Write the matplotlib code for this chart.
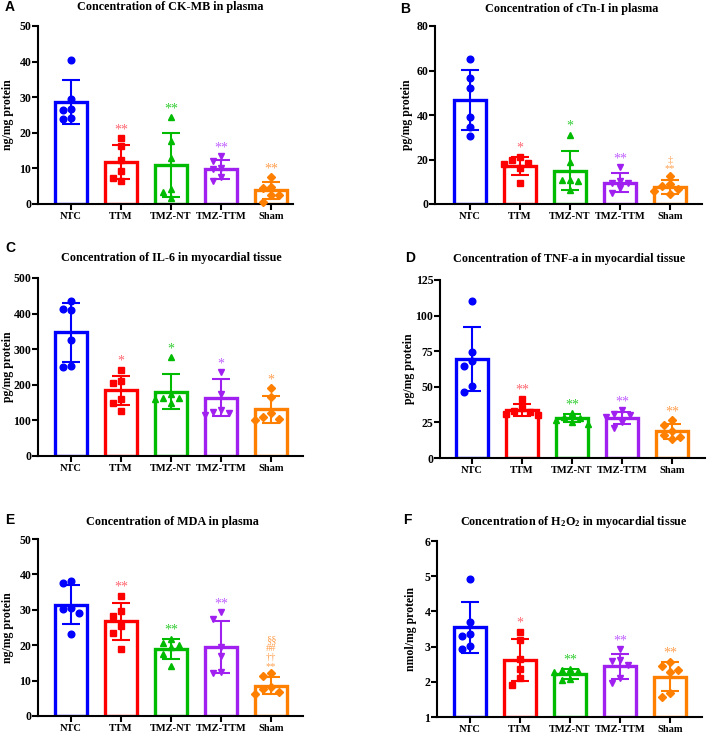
import matplotlib
matplotlib.use("Agg")
import matplotlib.pyplot as plt
import numpy as np

plt.rcParams["font.family"] = ["Liberation Serif", "DejaVu Serif"]
plt.rcParams["font.weight"] = "bold"
plt.rcParams["axes.labelweight"] = "bold"
plt.rcParams["mathtext.default"] = "regular"

groups = ["NTC", "TTM", "TMZ-NT", "TMZ-TTM", "Sham"]
bar_colors = ["#0000ff", "#ff0000", "#00bb00", "#a020f0", "#ff8000"]
sig_colors = ["#0000ff", "#ff6670", "#33cc33", "#c060ff", "#ffa050"]
markers = ["o", "s", "^", "v", "D"]

# A: CK-MB in plasma
ckmb_mean = [28.7, 11.8, 11.0, 9.8, 3.8]
ckmb_sd = [6.1, 4.8, 9.0, 2.7, 2.4]
ckmb_pts = [[40.5, 29.5, 26.8, 26.5, 24.1, 23.8],
            [18.5, 16.2, 12.5, 9.3, 7.2, 6.5],
            [24.4, 17.8, 12.9, 4.2, 3.4, 1.8],
            [13.5, 12.0, 10.2, 9.8, 7.5, 6.5],
            [7.5, 4.9, 4.4, 2.4, 2.4, 0.5]]
ckmb_sig = [[], ["**"], ["**"], ["**"], ["**"]]

# B: cTn-I in plasma
ctni_mean = [46.7, 17.2, 15.0, 9.6, 7.6]
ctni_sd = [13.6, 4.1, 8.8, 4.4, 3.2]
ctni_pts = [[65.0, 56.5, 52.0, 39.2, 34.6, 30.6],
            [21.0, 19.6, 18.6, 18.2, 16.0, 9.6],
            [31.2, 18.7, 10.8, 10.6, 10.5, 6.3],
            [16.6, 10.5, 9.4, 9.6, 7.0, 4.9],
            [12.8, 8.8, 8.0, 6.6, 6.0, 4.3]]
ctni_sig = [[], ["*"], ["*"], ["**"], ["**", "\u2021"]]

# C: IL-6 in myocardial tissue
il6_mean = [347, 184, 181, 164, 131]
il6_sd = [83, 42, 48, 51, 38]
il6_pts = [[434, 414, 409, 325, 254, 249],
           [242, 211, 206, 161, 148, 127],
           [278, 174, 163, 160, 150, 162],
           [236, 174, 129, 125, 120, 115],
           [191, 165, 121, 109, 105, 100]]
il6_sig = [[], ["*"], ["*"], ["*"], ["*"]]

# D: TNF-a in myocardial tissue
tnfa_mean = [69.4, 33.4, 28.0, 27.8, 18.7]
tnfa_sd = [22.7, 4.2, 3.0, 4.2, 5.1]
tnfa_pts = [[110.3, 74.1, 67.8, 64.7, 50.9, 46.3],
            [41.6, 35.0, 33.0, 32.0, 31.0, 30.0],
            [31.5, 28.5, 28.0, 27.0, 25.0, 24.0],
            [33.4, 31.0, 30.5, 29.0, 25.0, 21.0],
            [26.4, 23.4, 19.0, 16.0, 15.0, 13.0]]
tnfa_sig = [[], ["**"], ["**"], ["**"], ["**"]]

# E: MDA in plasma
mda_mean = [31.4, 26.7, 19.0, 19.4, 8.6]
mda_sd = [5.5, 5.3, 2.8, 7.3, 2.4]
mda_pts = [[38.0, 37.5, 30.6, 30.1, 29.0, 23.1],
           [34.0, 29.8, 28.3, 25.3, 23.5, 19.0],
           [21.7, 20.6, 20.0, 19.4, 17.4, 14.0],
           [29.4, 27.4, 19.4, 17.0, 12.5, 12.2],
           [12.1, 11.3, 8.3, 7.5, 6.9, 6.3]]
mda_sig = [[], ["**"], ["**"], ["**"], ["**", "\u2020\u2020", "##", "\u00a7\u00a7"]]

# F: H2O2 in myocardial tissue
h2o2_mean = [3.55, 2.62, 2.23, 2.44, 2.15]
h2o2_sd = [0.72, 0.59, 0.14, 0.35, 0.42]
h2o2_pts = [[4.92, 3.71, 3.36, 3.31, 3.02, 2.93],
            [3.42, 3.19, 2.65, 2.36, 2.12, 1.92],
            [2.35, 2.33, 2.30, 2.27, 2.07, 2.05],
            [2.93, 2.60, 2.62, 2.47, 2.12, 1.98],
            [2.55, 2.46, 2.34, 2.29, 1.68, 1.57]]
h2o2_sig = [[], ["*"], ["**"], ["**"], ["**"]]

panels = [
    ("A", "Concentration of CK-MB in plasma", "ng/mg protein",
     ckmb_mean, ckmb_sd, ckmb_pts, ckmb_sig, (0, 50), 10),
    ("B", "Concentration of cTn-I in plasma", "pg/mg protein",
     ctni_mean, ctni_sd, ctni_pts, ctni_sig, (0, 80), 20),
    ("C", "Concentration of IL-6 in myocardial tissue", "pg/mg protein",
     il6_mean, il6_sd, il6_pts, il6_sig, (0, 500), 100),
    ("D", "Concentration of TNF-a in myocardial tissue", "pg/mg protein",
     tnfa_mean, tnfa_sd, tnfa_pts, tnfa_sig, (0, 125), 25),
    ("E", "Concentration of MDA in plasma", "ng/mg protein",
     mda_mean, mda_sd, mda_pts, mda_sig, (0, 50), 10),
    ("F", "Concentration of H$_2$O$_2$ in myocardial tissue", "nmol/mg protein",
     h2o2_mean, h2o2_sd, h2o2_pts, h2o2_sig, (1, 6), 1),
]

# pixel layout: axes left, right, top, bottom, first bar centre; title xy; letter xy; ylabel right edge
layout = [
    (38, 293, 26, 204, 71, (170, 7), (5, 7), 14),
    (435, 702, 26, 204, 470, (572, 9), (400, 9), 413),
    (38, 303, 278, 456, 71, (171, 258), (5, 248), 14),
    (440, 705, 280, 458, 472, (569, 259), (405, 258), 415),
    (38, 303, 539, 716, 71, (172, 522), (5, 520), 14),
    (437, 702, 541, 717, 470, (574, 522), (403, 520), 417),
]

W, H = 709, 736
SPACING = 50.0


def swarm(values, ypx, step=8.0, min_d=7.5):
    values = np.asarray(values, dtype=float)
    order = np.argsort(values)[::-1]
    placed = []
    offs = np.zeros(len(values))
    for i in order:
        y = values[i] * ypx
        x = 0.0
        for k in [0, -1, 1, -2, 2, -3, 3]:
            x = k * step
            if all((x - px) ** 2 + (y - py) ** 2 >= min_d ** 2 for px, py in placed):
                break
        placed.append((x, y))
        offs[i] = x
    return offs / SPACING


fig = plt.figure(figsize=(W / 100, H / 100), dpi=100)

for (letter, title, ylabel, means, sds, pts, sigs, ylim, ystep), lay in zip(panels, layout):
    left, right, top, bottom, first, tpos, lpos, ylx = lay
    ax = fig.add_axes([left / W, 1 - bottom / H, (right - left) / W, (bottom - top) / H])
    x0 = -(first - left) / SPACING
    x1 = x0 + (right - left) / SPACING
    ax.set_xlim(x0, x1)
    ax.set_ylim(*ylim)
    ypx = (bottom - top) / (ylim[1] - ylim[0])
    x = np.arange(len(groups))

    ax.bar(x, np.array(means) - ylim[0], bottom=ylim[0], width=0.63,
           facecolor="white", edgecolor=bar_colors, linewidth=2.4, zorder=2)
    for i in range(len(groups)):
        ax.errorbar(i, means[i], yerr=sds[i], color=bar_colors[i], lw=1.5,
                    capsize=6.5, capthick=1.5, zorder=3)
        offs = swarm(pts[i], ypx)
        ax.plot(i + offs, pts[i], linestyle="none", marker=markers[i],
                color=bar_colors[i], markersize=4.8 if markers[i] != "D" else 4.0,
                zorder=4, clip_on=False)
        top_val = max(max(pts[i]), means[i] + sds[i])
        stacked = len(sigs[i]) > 1
        for k, s in enumerate(sigs[i]):
            fs = 7.5 if stacked else 10
            base = 5.0 if stacked else 6.0
            ax.annotate(s, xy=(i, top_val), xytext=(0, base + 6.3 * k),
                        textcoords="offset points", ha="center", va="center",
                        fontsize=fs, color=sig_colors[i], fontweight="normal")

    ax.set_xticks(x)
    ax.set_xticklabels(groups)
    ax.set_yticks(np.arange(ylim[0], ylim[1] + ystep / 2, ystep))
    for side in ["top", "right"]:
        ax.spines[side].set_visible(False)
    for side in ["left", "bottom"]:
        ax.spines[side].set_linewidth(1.5)
    ax.tick_params(direction="out", length=4, width=1.5)
    ax.tick_params(axis="x", labelsize=7.5, pad=1.5)
    ax.tick_params(axis="y", labelsize=8.5, pad=0.8)
    ax.set_ylabel(ylabel, fontsize=8.5)
    ax.yaxis.set_label_coords((ylx - left) / (right - left), 0.5)

    fig.text(tpos[0] / W, 1 - tpos[1] / H, title, ha="center", va="center",
             fontsize=8.7, fontweight="bold")
    fig.text(lpos[0] / W, 1 - lpos[1] / H, letter, ha="left", va="center",
             fontsize=10, fontweight="bold", family="Liberation Sans")

fig.savefig("out.png", dpi=100)
